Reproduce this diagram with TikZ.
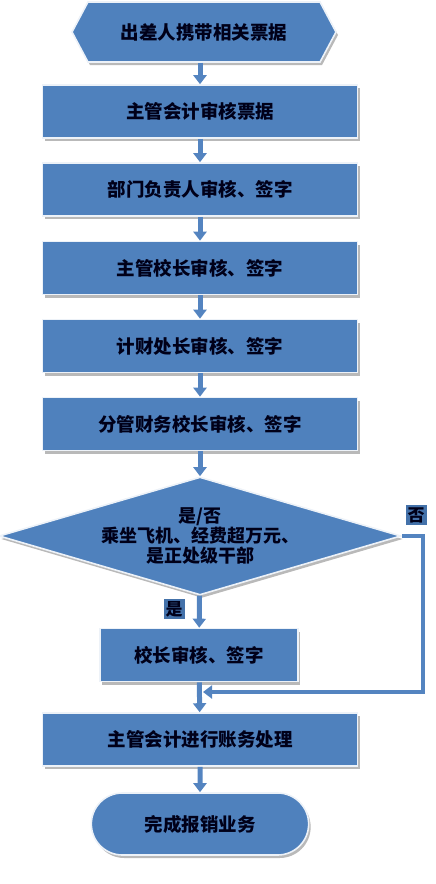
\documentclass[tikz,border=0pt]{standalone}
\usepackage{fontspec}
\newfontfamily\cjk{Noto Sans CJK SC}
\usetikzlibrary{arrows.meta,shapes.geometric,shapes.symbols,shapes.misc,shadows}
\definecolor{boxblue}{RGB}{79,129,189}
\definecolor{arrowblue}{RGB}{84,132,192}
\definecolor{tagblue}{RGB}{68,114,170}
\colorlet{rimwhite}{white!90!boxblue}

\begin{document}
\begin{tikzpicture}[x=1pt,y=-1pt,
    every node/.style={font=\cjk\bfseries\fontsize{18.5}{20}\selectfont,text=black!90!blue},
    shapebase/.style={fill=boxblue,draw=rimwhite,line width=1.6pt,
      drop shadow={shadow xshift=2pt,shadow yshift=-3pt,fill=black!55,opacity=.5}},
    procbox/.style={shapebase,rectangle,minimum width=315pt,minimum height=53pt},
    flow/.style={-{Triangle[width=13pt,length=9pt]},line width=5pt,arrowblue},
    tag/.style={fill=tagblue,inner sep=2pt,font=\cjk\bfseries\fontsize{17}{18}\selectfont}]
  \useasboundingbox (0,0) rectangle (436,884);
  % start and the row of checks
  \node[shapebase,signal,signal to=west and east,signal pointer angle=124,
    minimum width=264pt,minimum height=60pt,inner sep=0pt] (start) at (204,32) {出差人携带相关票据};
  \foreach \y/\name/\txt in {111.5/acct/主管会计审核票据,189.5/dept/部门负责人审核、签字,
      268/vice/主管校长审核、签字,346/fin/计财处长审核、签字,424/vfin/分管财务校长审核、签字}{
    \node[procbox] (\name) at (200,\y) {\txt};}
  % decision
  \node[shapebase,diamond,aspect=3.39,inner sep=0pt,minimum width=402pt,minimum height=118pt,
    align=center,font=\cjk\bfseries\fontsize{18}{20}\selectfont] (decide) at (200,536) {是/否\\乘坐飞机、经费超万元、\\是正处级干部};
  \node[procbox,minimum width=198pt] (head) at (199,655) {校长审核、签字};
  \node[procbox] (book) at (200,739.5) {主管会计进行账务处理};
  \node[shapebase,rounded rectangle,minimum width=224pt,minimum height=62pt] (done) at (200,824) {完成报销业务};
  \node[tag] (yes) at (174,609) {是};
  \node[tag] (no) at (416,515) {否};
  % connectors
  \draw[flow] (start.south -| acct) -- (acct);
  \foreach \a/\b in {acct/dept,dept/vice,vice/fin,fin/vfin,vfin/decide,decide/head,head/book,book/done}{
    \draw[flow] (\a) -- (\b);}
  \coordinate (loopcorner) at (423,692);
  \coordinate (merge) at (203,692);
  \draw[flow,line width=4pt] (decide.east) -| (loopcorner) -- (merge);
\end{tikzpicture}
\end{document}
